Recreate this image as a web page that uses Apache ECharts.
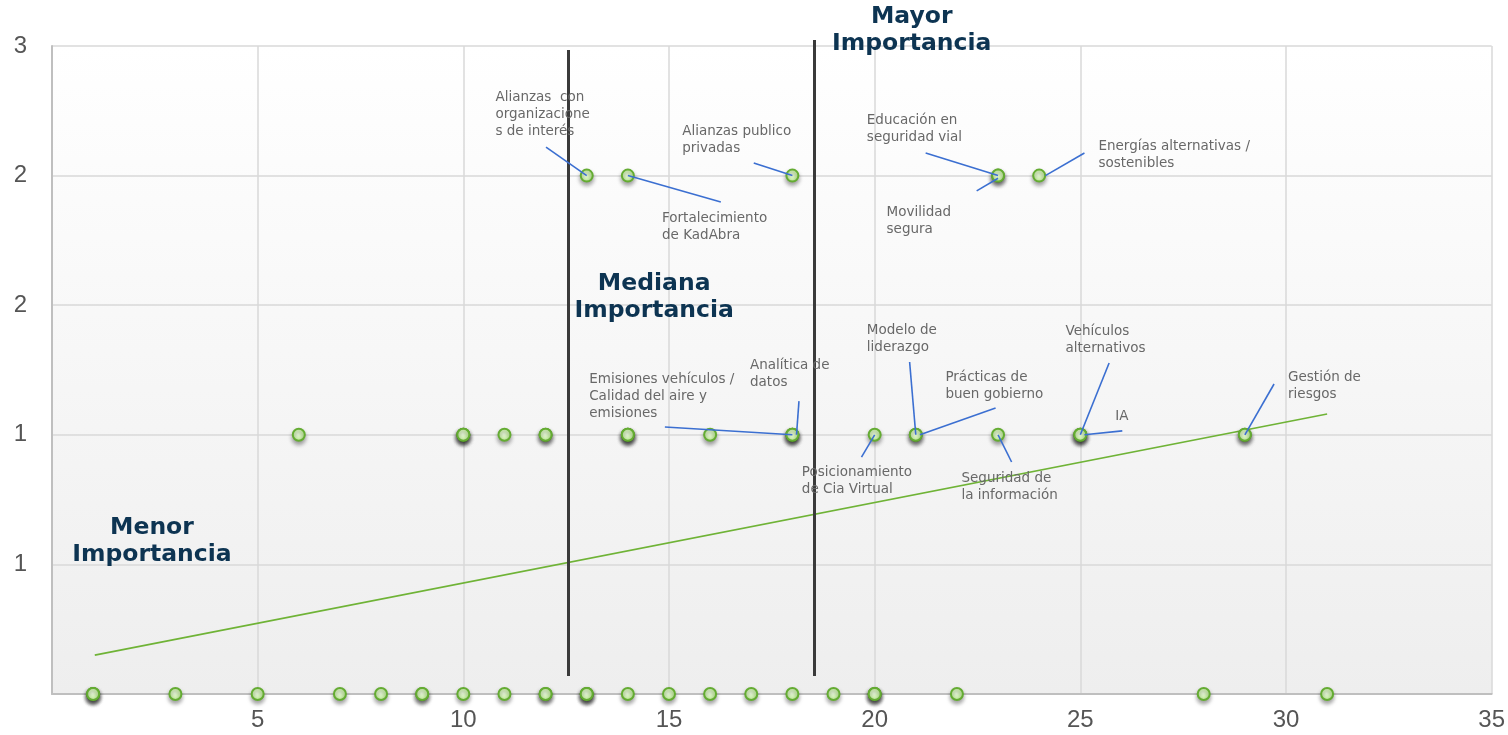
<!DOCTYPE html>
<html>
<head>
<meta charset="utf-8">
<script src="https://cdn.jsdelivr.net/npm/echarts@6/dist/echarts.min.js"></script>
<style>html,body{margin:0;padding:0;background:#fff}#chart{width:1508px;height:735px}</style>
</head>
<body>
<div id="chart"></div>
<script>
// ---- Data ----
// Points (x = impacto, y = importancia); repeated values represent overlapping points
const pointsX = [1,1,1,3,5,7,8,9,9,10,11,12,12,13,13,13,14,15,16,17,18,19,20,20,20,22,28,31,
                 6,10,10,10,11,12,12,14,14,14,16,18,18,18,20,21,21,23,25,25,25,29,29,
                 13,14,18,23,23,24];
const pointsY = [0,0,0,0,0,0,0,0,0,0,0,0,0,0,0,0,0,0,0,0,0,0,0,0,0,0,0,0,
                 1,1,1,1,1,1,1,1,1,1,1,1,1,1,1,1,1,1,1,1,1,1,1,
                 2,2,2,2,2,2];

const xTickLabels = ['', '5', '10', '15', '20', '25', '30', '35'];
const yTickLabels = ['', '1', '1', '2', '2', '3'];

const trendX = [1.04, 31.0];
const trendY = [0.15, 1.08];

const dividerX = [12.55, 18.54];
const dividerTop = [2.485, 2.523];
const dividerBottom = [0.069, 0.069];

const regionNames = ['Mayor\nImportancia', 'Mediana\nImportancia', 'Menor\nImportancia'];
const regionX = [20.9, 14.64, 2.43];
const regionY = [2.56, 1.532, 0.59];

const annotationTexts = [
  'Alianzas  con\norganizacione\ns de interés',
  'Alianzas publico\nprivadas',
  'Fortalecimiento\nde KadAbra',
  'Educación en\nseguridad vial',
  'Movilidad\nsegura',
  'Energías alternativas /\nsostenibles',
  'Emisiones vehículos /\nCalidad del aire y\nemisiones',
  'Analítica de\ndatos',
  'Modelo de\nliderazgo',
  'Prácticas de\nbuen gobierno',
  'Vehículos\nalternativos',
  'IA',
  'Gestión de\nriesgos',
  'Posicionamiento\nde Cia Virtual',
  'Seguridad de\nla información'
];
const annotationX = [10.78, 15.32, 14.83, 19.81, 20.29, 25.44, 13.06, 16.97, 19.81, 21.72, 24.64, 25.85, 30.05, 18.23, 22.11];
const annotationY = [2.334, 2.203, 1.867, 2.245, 1.890, 2.145, 1.246, 1.300, 1.435, 1.254, 1.431, 1.103, 1.254, 0.887, 0.864];
// leader lines: start (near text) -> end (at point)
const leaderStartX = [12.01, 17.06, 14.0, 21.24, 22.48, 25.10, 14.90, 18.16, 20.85, 22.94, 25.70, 26.02, 29.71, 19.68, 23.33];
const leaderStartY = [2.110, 2.049, 2.0, 2.087, 1.941, 2.087, 1.030, 1.130, 1.281, 1.103, 1.277, 1.015, 1.196, 0.914, 0.895];
const leaderEndX   = [13.0, 18.0, 16.26, 23.0, 23.0, 24.15, 18.0, 18.1, 21.0, 21.1, 25.0, 25.1, 29.0, 20.0, 23.0];
const leaderEndY   = [2.0, 2.0, 1.898, 2.0, 1.99, 2.0, 1.0, 1.0, 1.0, 1.0, 1.0, 1.0, 1.0, 1.0, 1.0];

// ---- Build options ----
const points = pointsX.map((x, i) => [x, pointsY[i]]);
const leaders = leaderStartX.map((x, i) => ({ coords: [[x, leaderStartY[i]], [leaderEndX[i], leaderEndY[i]]] }));
const dividers = dividerX.map((x, i) => ({ coords: [[x, dividerTop[i]], [x, dividerBottom[i]]] }));

const chart = echarts.init(document.getElementById('chart'));
chart.setOption({
  animation: false,
  grid: {
    left: 52, right: 15, top: 46, bottom: 41,
    show: true, borderWidth: 0,
    backgroundColor: new echarts.graphic.LinearGradient(0, 0, 0, 1, [
      { offset: 0, color: '#ffffff' },
      { offset: 1, color: '#eeeeee' }
    ])
  },
  xAxis: {
    type: 'value', min: 0, max: 35, interval: 5,
    axisLine: { show: true, lineStyle: { color: '#bfbfbf', width: 2 } },
    axisTick: { show: false },
    splitLine: { show: true, lineStyle: { color: '#d9d9d9', width: 1.5 } },
    axisLabel: {
      margin: 14, fontSize: 24, color: '#555555', fontFamily: 'Liberation Sans',
      formatter: v => xTickLabels[Math.round(v / 5)]
    }
  },
  yAxis: {
    type: 'value', min: 0, max: 2.5, interval: 0.5,
    axisLine: { show: true, lineStyle: { color: '#bfbfbf', width: 2 } },
    axisTick: { show: false },
    splitLine: { show: true, lineStyle: { color: '#d9d9d9', width: 1.5 } },
    axisLabel: {
      margin: 25, fontSize: 24, color: '#555555', fontFamily: 'Liberation Sans',
      formatter: v => yTickLabels[Math.round(v / 0.5)]
    }
  },
  series: [
    {
      type: 'line', data: trendX.map((x, i) => [x, trendY[i]]),
      showSymbol: false, silent: true, z: 2,
      lineStyle: { color: '#6fb336', width: 1.6 }
    },
    {
      type: 'lines', coordinateSystem: 'cartesian2d', data: dividers,
      clip: false, silent: true, z: 3,
      lineStyle: { color: '#3a3a3a', width: 3, opacity: 1 }
    },
    {
      type: 'scatter', data: points, symbol: 'circle', symbolSize: 12, z: 4,
      itemStyle: {
        color: new echarts.graphic.RadialGradient(0.45, 0.45, 0.6, [
          { offset: 0, color: '#eefee0' },
          { offset: 1, color: '#b4e884' }
        ]),
        borderColor: '#64ac32', borderWidth: 2, opacity: 1,
        shadowBlur: 4, shadowColor: 'rgba(0,0,0,0.35)', shadowOffsetY: 3
      }
    },
    {
      type: 'lines', coordinateSystem: 'cartesian2d', data: leaders,
      clip: false, silent: true, z: 5,
      lineStyle: { color: '#3b6fd1', width: 1.6, opacity: 1 }
    }
  ]
});

// Text annotations placed at data coordinates through the chart's own scales
function placeTexts() {
  const elements = [];
  annotationTexts.forEach((t, i) => {
    const p = chart.convertToPixel({ gridIndex: 0 }, [annotationX[i], annotationY[i]]);
    elements.push({
      type: 'text', x: p[0], y: p[1], z: 100, silent: true,
      style: {
        text: t, fill: '#686868', font: '13.5px "DejaVu Sans"',
        lineHeight: 17, align: 'left', verticalAlign: 'top'
      }
    });
  });
  regionNames.forEach((t, i) => {
    const p = chart.convertToPixel({ gridIndex: 0 }, [regionX[i], regionY[i]]);
    elements.push({
      type: 'text', x: p[0], y: p[1], z: 100, silent: true,
      style: {
        text: t, fill: '#0d3452', font: 'bold 23.5px "DejaVu Sans"',
        lineHeight: 27, align: 'center', verticalAlign: 'middle'
      }
    });
  });
  chart.setOption({ graphic: { elements: elements } });
}
placeTexts();
</script>
</body>
</html>
